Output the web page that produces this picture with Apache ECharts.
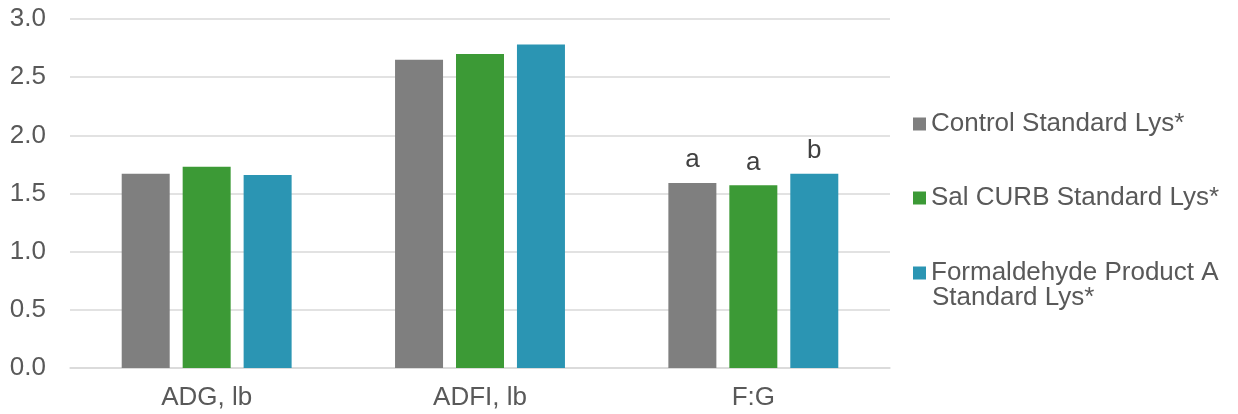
<!DOCTYPE html>
<html>
<head>
<meta charset="utf-8">
<script src="https://cdn.jsdelivr.net/npm/echarts@6/dist/echarts.min.js"></script>
<style>
  html, body { margin: 0; padding: 0; background: #fff; }
  #chart { width: 1238px; height: 414px; }
</style>
</head>
<body>
<div id="chart"></div>
<script>
const categories = ['ADG, lb', 'ADFI, lb', 'F:G'];
const seriesNames = ['Control Standard Lys*', 'Sal CURB Standard Lys*', 'Formaldehyde Product A Standard Lys*'];
const control = [1.67, 2.65, 1.59];
const salCurb = [1.73, 2.70, 1.57];
const formaldehyde = [1.66, 2.78, 1.67];
// 显著性字母，只在 F:G 上
const letters = [
  ['', '', 'a'],
  ['', '', 'a'],
  ['', '', 'b']
];
const colors = ['#7f7f7f', '#3c9a36', '#2b95b3'];
const textColor = '#595959';
const font = 'Liberation Sans, Arial, sans-serif';
const fs = 26;

const chart = echarts.init(document.getElementById('chart'));
const values = [control, salCurb, formaldehyde];

const series = values.map((d, i) => ({
  name: seriesNames[i],
  type: 'bar',
  data: d,
  barWidth: 48,
  barGap: '27%',
  itemStyle: { color: colors[i] },
  label: {
    show: true,
    position: 'top',
    distance: 10,
    color: '#404040',
    fontFamily: font,
    fontSize: fs,
    formatter: p => letters[i][p.dataIndex]
  }
}));

// 图例：每项单独放，第三项的第二行用文字补上
const legendTops = [106, 180, 255];
const legend = seriesNames.map((n, i) => ({
  data: [n],
  orient: 'vertical',
  left: 908,
  top: legendTops[i],
  itemWidth: 13,
  itemHeight: 13,
  itemGap: 4,
  icon: 'rect',
  selectedMode: false,
  textStyle: { color: textColor, fontSize: fs, fontFamily: font },
  formatter: name => name === seriesNames[2] ? 'Formaldehyde Product A' : name
}));

const option = {
  animation: false,
  grid: { left: 70, right: 348, top: 19, bottom: 46 },
  legend: legend,
  graphic: [{
    type: 'text',
    left: 932,
    top: 285,
    style: { text: 'Standard Lys*', fill: textColor, fontSize: fs, fontFamily: font }
  }],
  xAxis: {
    type: 'category',
    data: categories,
    axisTick: { show: false },
    axisLine: { lineStyle: { color: '#d9d9d9', width: 1.5 } },
    axisLabel: { color: textColor, fontSize: fs, fontFamily: font, margin: 17 }
  },
  yAxis: {
    type: 'value',
    min: 0,
    max: 3,
    interval: 0.5,
    axisLabel: {
      color: textColor, fontSize: fs, fontFamily: font, margin: 24,
      formatter: v => v.toFixed(1)
    },
    splitLine: { lineStyle: { color: '#d9d9d9', width: 1.5 } },
    axisLine: { show: false },
    axisTick: { show: false }
  },
  series: series
};
chart.setOption(option);
</script>
</body>
</html>
